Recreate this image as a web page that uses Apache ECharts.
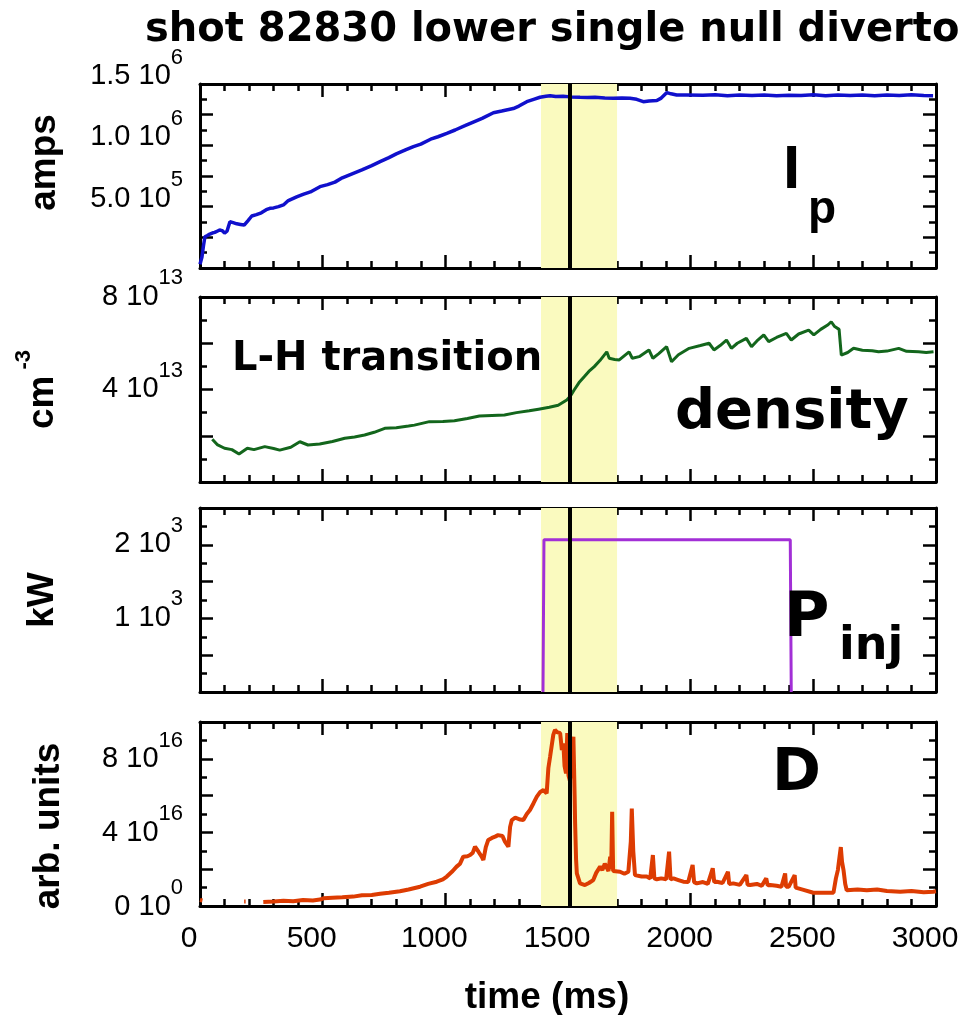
<!DOCTYPE html>
<html>
<head>
<meta charset="utf-8">
<script src="https://cdn.jsdelivr.net/npm/echarts@6/dist/echarts.min.js"></script>
<style>
html,body{margin:0;padding:0;background:#ffffff;}
#chart{width:962px;height:1015px;}
</style>
</head>
<body>
<div id="chart"></div>
<script>
// ---------------- data ----------------
const titleText = 'shot 82830 lower single null divertor';

// x axis: time in ms
const timeTicks = [0, 500, 1000, 1500, 2000, 2500, 3000];

// plasma current Ip (amps)
const ipTime = [0, 8, 14, 20, 30, 40, 50, 60, 70, 80, 90, 100, 110, 122, 135, 150, 165, 180, 195, 211, 230, 250, 270, 285, 300, 320, 340, 360, 394, 420, 450, 489, 520, 550, 580, 625, 660, 700, 734, 770, 800, 840, 870, 900, 940, 970, 1006, 1040, 1080, 1114, 1150, 1196, 1230, 1277, 1300, 1332, 1360, 1386, 1410, 1427, 1450, 1480, 1510, 1549, 1580, 1610, 1650, 1685, 1720, 1753, 1780, 1807, 1830, 1862, 1880, 1903, 1920, 1943, 1984, 2050, 2100, 2150, 2200, 2250, 2300, 2350, 2400, 2450, 2500, 2550, 2600, 2650, 2700, 2750, 2800, 2850, 2900, 2950, 2988];
const ipValues = [0.03e6, 0.09e6, 0.18e6, 0.255e6, 0.265e6, 0.277e6, 0.285e6, 0.29e6, 0.30e6, 0.31e6, 0.305e6, 0.285e6, 0.30e6, 0.377e6, 0.37e6, 0.36e6, 0.355e6, 0.35e6, 0.385e6, 0.424e6, 0.435e6, 0.45e6, 0.475e6, 0.487e6, 0.49e6, 0.50e6, 0.514e6, 0.55e6, 0.58e6, 0.60e6, 0.62e6, 0.663e6, 0.68e6, 0.70e6, 0.735e6, 0.772e6, 0.80e6, 0.835e6, 0.867e6, 0.90e6, 0.93e6, 0.965e6, 0.99e6, 1.01e6, 1.05e6, 1.07e6, 1.098e6, 1.125e6, 1.16e6, 1.19e6, 1.22e6, 1.266e6, 1.28e6, 1.30e6, 1.32e6, 1.356e6, 1.375e6, 1.392e6, 1.40e6, 1.405e6, 1.398e6, 1.40e6, 1.395e6, 1.392e6, 1.39e6, 1.392e6, 1.386e6, 1.383e6, 1.385e6, 1.383e6, 1.375e6, 1.356e6, 1.362e6, 1.365e6, 1.385e6, 1.43e6, 1.42e6, 1.41e6, 1.41e6, 1.408e6, 1.412e6, 1.405e6, 1.41e6, 1.406e6, 1.411e6, 1.404e6, 1.409e6, 1.407e6, 1.412e6, 1.405e6, 1.41e6, 1.406e6, 1.411e6, 1.405e6, 1.41e6, 1.407e6, 1.412e6, 1.406e6, 1.405e6];

// line-averaged density (cm^-3)
const neTime = [50, 70, 100, 130, 159, 193, 220, 264, 300, 325, 370, 407, 440, 488, 540, 590, 630, 671, 710, 753, 800, 850, 874, 935, 990, 1037, 1090, 1139, 1190, 1241, 1290, 1342, 1380, 1424, 1460, 1495, 1510, 1525, 1545, 1566, 1585, 1607, 1630, 1658, 1668, 1690, 1709, 1749, 1762, 1790, 1830, 1846, 1870, 1902, 1922, 1950, 1994, 2040, 2075, 2095, 2120, 2146, 2166, 2190, 2227, 2248, 2270, 2298, 2318, 2350, 2390, 2410, 2440, 2481, 2502, 2530, 2560, 2573, 2587, 2605, 2614, 2640, 2664, 2700, 2740, 2766, 2800, 2848, 2880, 2929, 2960, 2990];
const neValues = [1.85e13, 1.62e13, 1.46e13, 1.40e13, 1.21e13, 1.46e13, 1.40e13, 1.53e13, 1.45e13, 1.38e13, 1.50e13, 1.74e13, 1.60e13, 1.64e13, 1.75e13, 1.89e13, 1.95e13, 2.03e13, 2.15e13, 2.32e13, 2.35e13, 2.42e13, 2.46e13, 2.61e13, 2.62e13, 2.65e13, 2.75e13, 2.85e13, 2.88e13, 2.90e13, 3.00e13, 3.08e13, 3.15e13, 3.23e13, 3.32e13, 3.55e13, 3.72e13, 3.98e13, 4.30e13, 4.55e13, 4.78e13, 4.99e13, 5.25e13, 5.63e13, 5.35e13, 5.30e13, 5.28e13, 5.63e13, 5.35e13, 5.42e13, 5.71e13, 5.35e13, 5.55e13, 5.85e13, 5.20e13, 5.50e13, 5.78e13, 5.90e13, 6.00e13, 5.71e13, 5.90e13, 6.14e13, 5.78e13, 6.00e13, 6.21e13, 5.85e13, 6.10e13, 6.36e13, 6.07e13, 6.25e13, 6.43e13, 6.14e13, 6.40e13, 6.57e13, 6.36e13, 6.60e13, 6.80e13, 6.93e13, 6.72e13, 6.60e13, 5.49e13, 5.60e13, 5.78e13, 5.70e13, 5.68e13, 5.63e13, 5.66e13, 5.78e13, 5.65e13, 5.63e13, 5.60e13, 5.63e13];

// injected neutral beam power (kW)
const pinjTime = [1398, 1402, 1500, 1800, 2100, 2406, 2410];
const pinjValues = [0, 2070, 2070, 2070, 2070, 2070, 0];

// D-alpha emission (arb. units); null marks a gap in the record
const daTime = [0, 10, 12, 180, 186, 188, 258, 300, 340, 380, 420, 460, 489, 503, 540, 580, 625, 660, 700, 734, 770, 815, 850, 897, 930, 965, 990, 1006, 1030, 1046, 1060, 1073, 1090, 1101, 1112, 1121, 1135, 1148, 1155, 1165, 1175, 1190, 1203, 1215, 1223, 1233, 1243, 1257, 1264, 1271, 1285, 1291, 1305, 1318, 1332, 1345, 1360, 1373, 1387, 1400, 1413, 1420, 1427, 1440, 1447, 1455, 1468, 1475, 1481, 1486, 1492, 1497, 1502, 1508, 1515, 1522, 1527, 1529, 1533, 1536, 1549, 1569, 1585, 1603, 1615, 1631, 1640, 1650, 1658, 1665, 1672, 1676, 1680, 1684, 1692, 1712, 1730, 1746, 1756, 1760, 1766, 1773, 1800, 1821, 1835, 1846, 1852, 1862, 1880, 1900, 1912, 1918, 1930, 1950, 1970, 1990, 2008, 2014, 2025, 2050, 2070, 2090, 2096, 2106, 2130, 2152, 2157, 2174, 2200, 2227, 2232, 2242, 2270, 2290, 2308, 2314, 2324, 2350, 2370, 2385, 2389, 2400, 2424, 2428, 2433, 2460, 2500, 2540, 2582, 2592, 2600, 2608, 2612, 2617, 2623, 2630, 2636, 2680, 2718, 2760, 2800, 2854, 2900, 2950, 2989, 3000];
const daValues = [0.33e16, 0.30e16, null, 0.25e16, 0.25e16, null, 0.22e16, 0.25e16, 0.28e16, 0.26e16, 0.32e16, 0.30e16, 0.35e16, 0.42e16, 0.45e16, 0.47e16, 0.51e16, 0.58e16, 0.60e16, 0.66e16, 0.72e16, 0.80e16, 0.90e16, 1.05e16, 1.20e16, 1.32e16, 1.45e16, 1.60e16, 1.90e16, 2.14e16, 2.30e16, 2.68e16, 2.70e16, 2.77e16, 2.90e16, 3.22e16, 2.95e16, 2.68e16, 2.50e16, 3.20e16, 3.59e16, 3.70e16, 3.77e16, 3.85e16, 3.95e16, 3.80e16, 3.50e16, 3.22e16, 4.30e16, 4.67e16, 4.80e16, 4.85e16, 4.70e16, 4.67e16, 5.00e16, 5.22e16, 5.60e16, 5.94e16, 6.20e16, 6.30e16, 6.12e16, 7.50e16, 8.11e16, 9.30e16, 9.57e16, 9.45e16, 9.39e16, 8.48e16, 8.84e16, 7.60e16, 7.21e16, 9.40e16, 7.10e16, 6.80e16, 8.00e16, 9.20e16, 6.00e16, 4.49e16, 2.50e16, 1.77e16, 1.23e16, 1.14e16, 1.25e16, 1.41e16, 1.80e16, 2.14e16, 1.95e16, 2.30e16, 2.23e16, 1.90e16, 2.68e16, 2.00e16, 5.12e16, 1.90e16, 1.80e16, 1.86e16, 1.75e16, 1.86e16, 3.50e16, 5.30e16, 3.00e16, 1.68e16, 1.60e16, 1.60e16, 1.50e16, 2.77e16, 1.50e16, 1.45e16, 1.50e16, 1.45e16, 2.95e16, 1.45e16, 1.50e16, 1.41e16, 1.32e16, 1.30e16, 2.23e16, 1.30e16, 1.23e16, 1.30e16, 1.20e16, 2.05e16, 1.30e16, 1.32e16, 1.25e16, 1.86e16, 1.20e16, 1.23e16, 1.15e16, 1.68e16, 1.15e16, 1.14e16, 1.20e16, 1.10e16, 1.50e16, 1.12e16, 1.14e16, 1.10e16, 1.05e16, 1.77e16, 1.05e16, 1.05e16, 1.68e16, 1.00e16, 0.96e16, 0.88e16, 0.72e16, 0.72e16, 0.72e16, 1.50e16, 1.95e16, 2.80e16, 3.20e16, 2.40e16, 1.95e16, 1.20e16, 0.86e16, 0.90e16, 0.86e16, 0.90e16, 0.82e16, 0.78e16, 0.82e16, 0.75e16, 0.78e16, 0.80e16];

// L-H transition window and time
const lhWindow = [1390, 1700];
const lhTime = 1506;

// y tick labels: [value, mantissa, exponent]
const ipTickLabels = [[5e5, '5.0', '5'], [1e6, '1.0', '6'], [1.5e6, '1.5', '6']];
const neTickLabels = [[4e13, '4', '13'], [8e13, '8', '13']];
const pinjTickLabels = [[1000, '1', '3'], [2000, '2', '3']];
const daTickLabels = [[0, '0', '0'], [4e16, '4', '16'], [8e16, '8', '16']];

// ---------------- chart ----------------
const FONT_TICK = "'Liberation Sans', Arial, Helvetica, sans-serif";
const FONT_BOLD = "'DejaVu Sans', 'Liberation Sans', sans-serif";
const FONT_HELV = "'Liberation Sans', Arial, Helvetica, sans-serif";

function zip(xs, ys) { return xs.map((x, i) => [x, ys[i]]); }

function sciFormatter(list) {
  return function (v) {
    for (const [val, m, e] of list) {
      if (Math.abs(v - val) <= Math.abs(val) * 1e-6 + 1e-9) return '{b|' + m + ' 10}{e|' + e + '}';
    }
    return '';
  };
}

const grids = [
  { left: 200, width: 736, top: 84, height: 184, outerBoundsMode: 'none', containLabel: false },
  { left: 200, width: 736, top: 297, height: 185, outerBoundsMode: 'none', containLabel: false },
  { left: 200, width: 736, top: 508, height: 184, outerBoundsMode: 'none', containLabel: false },
  { left: 200, width: 736, top: 722, height: 184, outerBoundsMode: 'none', containLabel: false }
];

const axisLineStyle = { color: '#000', width: 3 };
const tickStyle = { color: '#000', width: 2.5 };

const xAxes = [];
const yAxes = [];
for (let i = 0; i < 4; i++) {
  ['bottom', 'top'].forEach(pos => {
    const isLabelled = (i === 3 && pos === 'bottom');
    xAxes.push({
      type: 'value', gridIndex: i, position: pos, min: 0, max: 3000, interval: 500,
      axisLine: { show: true, onZero: false, lineStyle: axisLineStyle },
      axisTick: { show: true, inside: true, length: 13, lineStyle: tickStyle },
      minorTick: { show: true, splitNumber: 5, length: 7, lineStyle: tickStyle },
      splitLine: { show: false }, minorSplitLine: { show: false },
      axisLabel: isLabelled ? {
        show: true, color: '#000', fontFamily: FONT_TICK, fontSize: 30, margin: 18,
        padding: [0, 22, 0, 0],
        formatter: v => (timeTicks.indexOf(v) >= 0 ? String(v) : '')
      } : { show: false },
      name: isLabelled ? 'time (ms)' : '',
      nameLocation: 'middle', nameGap: 73,
      nameTextStyle: { color: '#000', fontFamily: FONT_HELV, fontWeight: 'bold', fontSize: 37, padding: [0, 42, 0, 0] }
    });
  });
}

// per-panel settings (labelPad shifts the tick labels upward; pad shifts the axis name along the axis)
const yConf = [
  { min: 0, max: 1.5e6, interval: 2.5e5, labels: ipTickLabels, name: 'amps', pad: [0, 0, 0, 27], gap: 137, labelPad: 31 },
  { min: 0, max: 8e13, interval: 2e13, labels: neTickLabels, name: '{b|cm}{e| -3}', pad: [0, 0, 0, 0], gap: 139, labelPad: 16 },
  { min: 0, max: 2500, interval: 500, labels: pinjTickLabels, name: 'kW', pad: [0, 0, 0, 0], gap: 139, labelPad: 16 },
  { min: 0, max: 1e17, interval: 2e16, labels: daTickLabels, name: 'arb. units', pad: [0, 24, 0, 0], gap: 133, labelPad: 14 }
];

const tickRich = {
  b: { fontFamily: FONT_TICK, fontSize: 29, color: '#000', lineHeight: 44, verticalAlign: 'bottom' },
  e: { fontFamily: FONT_TICK, fontSize: 22, color: '#000', lineHeight: 22, verticalAlign: 'top' }
};
const nameRich = {
  b: { fontFamily: FONT_HELV, fontWeight: 'bold', fontSize: 37, color: '#000', lineHeight: 48, verticalAlign: 'bottom' },
  e: { fontFamily: FONT_HELV, fontWeight: 'bold', fontSize: 22, color: '#000', lineHeight: 22, verticalAlign: 'top' }
};

yConf.forEach((c, i) => {
  ['left', 'right'].forEach(pos => {
    const left = pos === 'left';
    yAxes.push({
      type: 'value', gridIndex: i, position: pos, min: c.min, max: c.max, interval: c.interval,
      axisLine: { show: true, onZero: false, lineStyle: axisLineStyle },
      axisTick: { show: true, inside: true, length: 13, lineStyle: tickStyle },
      minorTick: { show: true, splitNumber: 2, length: 7, lineStyle: tickStyle },
      splitLine: { show: false }, minorSplitLine: { show: false },
      axisLabel: left ? {
        show: true, margin: 17, formatter: sciFormatter(c.labels), rich: tickRich,
        padding: [0, 0, c.labelPad, 0], showMinLabel: true, showMaxLabel: true
      } : { show: false },
      name: left ? c.name : '',
      nameLocation: 'middle', nameGap: c.gap,
      nameTextStyle: {
        color: '#000', fontFamily: FONT_HELV, fontWeight: 'bold', fontSize: 37,
        padding: c.pad, rich: nameRich
      }
    });
  });
});

const bandArea = {
  silent: true,
  itemStyle: { color: '#fafabf' },
  data: [[{ xAxis: lhWindow[0] }, { xAxis: lhWindow[1] }]]
};
const lhLine = {
  silent: true, symbol: ['none', 'none'], label: { show: false },
  lineStyle: { color: '#000', width: 4, type: 'solid' },
  data: [{ xAxis: lhTime }]
};

function seriesFor(i, data, color, width) {
  return {
    type: 'line', xAxisIndex: 2 * i, yAxisIndex: 2 * i, data: data,
    showSymbol: false, symbol: 'none', connectNulls: false,
    lineStyle: { color: color, width: width }, itemStyle: { color: color },
    z: 3,
    markArea: bandArea
  };
}
function lineFor(i) {
  return {
    type: 'line', xAxisIndex: 2 * i, yAxisIndex: 2 * i, data: [],
    showSymbol: false, z: 5, markLine: lhLine
  };
}

const series = [
  seriesFor(0, zip(ipTime, ipValues), '#1010cc', 3.5),
  seriesFor(1, zip(neTime, neValues), '#13661c', 3),
  seriesFor(2, zip(pinjTime, pinjValues), '#a22fd6', 3),
  seriesFor(3, zip(daTime, daValues), '#dd3c02', 4),
  lineFor(0), lineFor(1), lineFor(2), lineFor(3)
];

function txt(x, y, text, size, family) {
  return {
    type: 'text', x: x, y: y, z: 100,
    style: { text: text, fill: '#000', font: 'bold ' + size + 'px ' + (family || FONT_BOLD), verticalAlign: 'middle', align: 'left' }
  };
}

const option = {
  animation: false,
  backgroundColor: '#ffffff',
  grid: grids,
  xAxis: xAxes,
  yAxis: yAxes,
  series: series,
  graphic: [
    txt(145, 31, titleText, 40),
    txt(232, 360, 'L-H transition', 40),
    txt(675, 413, 'density', 56),
    txt(783, 171, 'I', 62, FONT_HELV),
    txt(808, 210, 'p', 46, FONT_HELV),
    txt(784, 620, 'P', 62),
    txt(839, 647, 'inj', 46),
    txt(772, 775, 'D', 59)
  ]
};

const chart = echarts.init(document.getElementById('chart'), null, { renderer: 'canvas' });
chart.setOption(option);
</script>
</body>
</html>
